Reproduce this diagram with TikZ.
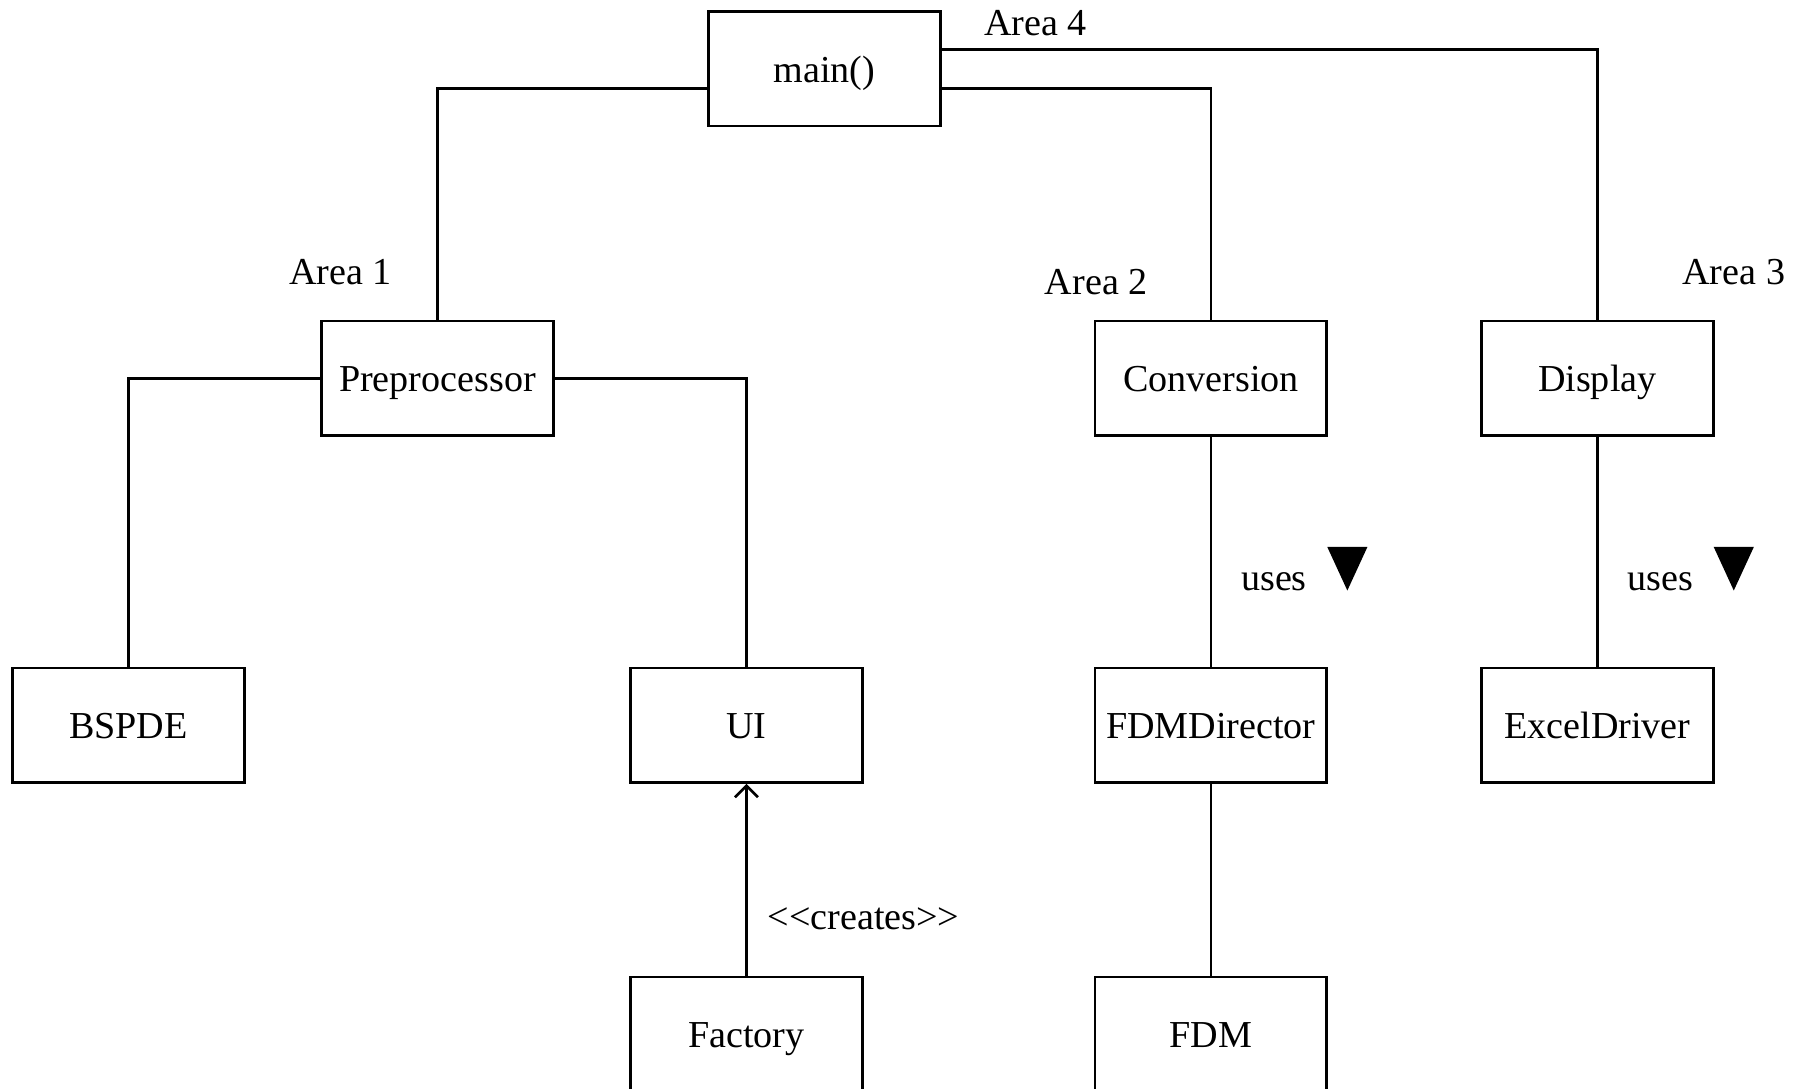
\documentclass[tikz,border=0pt]{standalone}
\usepackage{fontspec}
\setmainfont{Liberation Serif}
\usetikzlibrary{arrows.meta,calc,positioning}

\begin{document}
\begin{tikzpicture}[x=0.01cm,y=-0.01cm,line width=0.65pt,
    font=\fontsize{9.45}{11}\selectfont,
    cls/.style={draw,minimum width=2.02cm,minimum height=1cm,inner sep=0pt,
      text height=0.66em,text depth=0pt},
    lbl/.style={inner sep=0pt}]
      \clip (0,0) rectangle (1568,949);
      \node[cls] (main) at (719,60) {main()};
      \node[cls] (prep) at (381.5,330) {Preprocessor};
      \node[cls] (conv) at (1056,330) {Conversion};
      \node[cls] (disp) at (1393,330) {Display};
      \node[cls] (bspde) at (112,632.5) {BSPDE};
      \node[cls] (ui) at (651,632.5) {UI};
      \node[cls] (fdmdir) at (1056,632.5) {FDMDirector};
      \node[cls] (excel) at (1393,632.5) {ExcelDriver};
      \node[cls] (factory) at (651,902) {Factory};
      \node[cls] (fdm) at (1056,902) {FDM};
      \node[lbl] (area4) at (903,20) {Area 4};
      \node[lbl] (area1) at (297,237) {Area 1};
      \node[lbl] (area2) at (956,246) {Area 2};
      \node[lbl] (area3) at (1512,237) {Area 3};
      \node[lbl] (uses1) at (1111,507) {uses};
      \node[lbl] (uses2) at (1448,507) {uses};
      \node[lbl] (creates) at (753,801) {<\kern0pt<creates>\kern0pt>};
      \draw ([yshift=-0.17cm]main.west) -| (prep.north);
      \draw ([yshift=-0.17cm]main.east) -| (conv.north);
      \draw ([yshift=0.17cm]main.east) -| (disp.north);
      \draw (prep.west) -| (bspde.north);
      \draw (prep.east) -| (ui.north);
      \draw (conv) -- (fdmdir);
      \draw (fdmdir) -- (fdm);
      \draw (disp) -- (excel);
      \draw[-{Straight Barb[length=1mm,width=2mm]}] (factory) -- (ui);
      \foreach \x in {1175,1512}
        \fill (\x-17.5,477) -- (\x+17.5,477) -- (\x,515) -- cycle;
    \end{tikzpicture}
\end{document}
